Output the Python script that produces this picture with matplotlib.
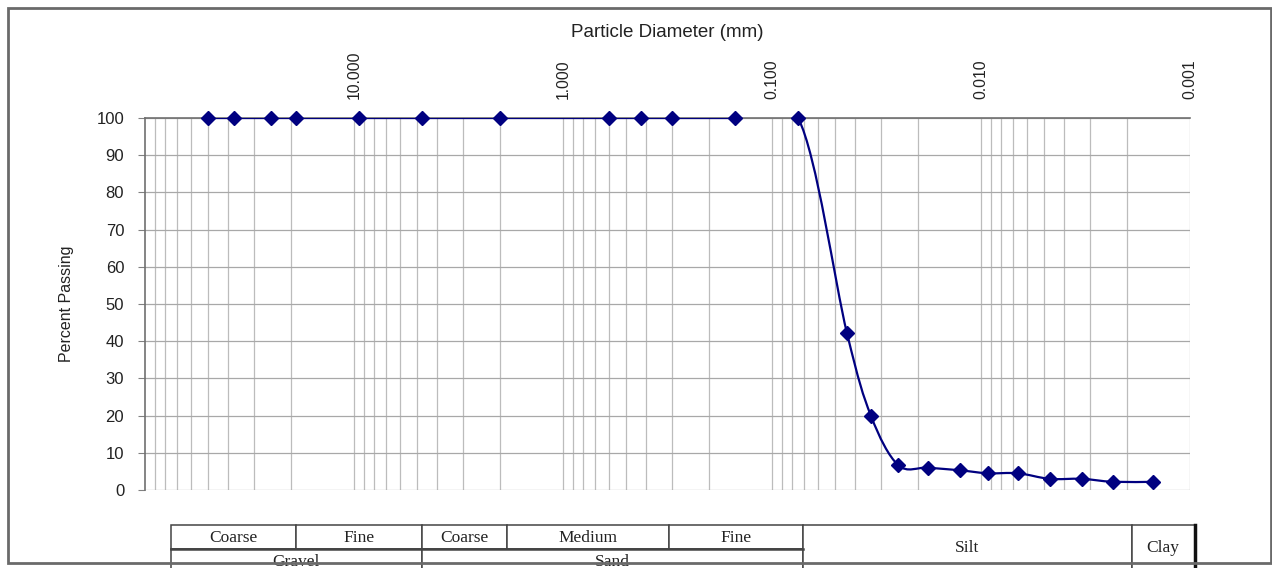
"""Grain size distribution curve with soil classification table."""
import matplotlib.pyplot as plt
import numpy as np
from matplotlib.patches import PathPatch, Rectangle
from matplotlib.path import Path
from matplotlib.ticker import FixedLocator, LogLocator, NullFormatter
from matplotlib.transforms import blended_transform_factory

# Sieve + hydrometer results
diameter_mm = [50.0, 37.5, 25.0, 19.0, 9.5, 4.75, 2.0, 0.6, 0.425, 0.3, 0.15, 0.075,
               0.0438, 0.0336, 0.0249, 0.0180, 0.0126, 0.0093, 0.00665, 0.0047,
               0.0033, 0.00233, 0.0015]
percent_passing = [100, 100, 100, 100, 100, 100, 100, 100, 100, 100, 100, 100,
                   42.2, 19.9, 6.7, 6.0, 5.3, 4.5, 4.5, 3.0, 3.0, 2.2, 2.2]

x_ticks = [10, 1, 0.1, 0.01, 0.001]
y_ticks = list(range(0, 101, 10))

# Classification table (edges in mm, as drawn under the chart)
top_row_labels = ["Coarse", "Fine", "Coarse", "Medium", "Fine"]
top_row_edges = [75, 19, 4.75, 1.85, 0.31, 0.071]
group_labels = ["Gravel", "Sand"]
group_edges = [75, 4.75, 0.071]
fines_labels = ["Silt", "Clay"]
fines_edges = [0.071, 0.0019, 0.00095]

NAVY = "#000080"
TEXT = "#222222"


def smooth_path(x, y):
    """Excel-like smoothed line as a cubic Bezier path (built in log-x space)."""
    lx = np.log10(x)
    y = np.asarray(y, dtype=float)
    n = len(lx)
    verts = [(x[0], y[0])]
    codes = [Path.MOVETO]
    for i in range(n - 1):
        a = max(i - 1, 0)
        b = min(i + 2, n - 1)
        c1 = (lx[i] + (lx[i + 1] - lx[a]) / 6, y[i] + (y[i + 1] - y[a]) / 6)
        c2 = (lx[i + 1] - (lx[b] - lx[i]) / 6, y[i + 1] - (y[b] - y[i]) / 6)
        verts += [(10 ** c1[0], c1[1]), (10 ** c2[0], c2[1]), (x[i + 1], y[i + 1])]
        codes += [Path.CURVE4] * 3
    return Path(verts, codes)


def main():
    plt.rcParams["font.family"] = ["Liberation Sans", "DejaVu Sans"]

    fig = plt.figure(figsize=(12.72, 5.68), dpi=100)
    ax = fig.add_axes([145 / 1272, 1 - 490 / 568, (1190 - 145) / 1272, (490 - 118) / 568])

    ax.set_xscale("log")
    ax.set_xlim(100, 0.001)
    ax.set_ylim(0, 100)

    ax.xaxis.set_major_locator(FixedLocator(x_ticks))
    ax.xaxis.set_minor_locator(LogLocator(base=10, subs=np.arange(2, 10), numticks=20))
    ax.xaxis.set_minor_formatter(NullFormatter())
    ax.set_xticklabels([f"{t:.3f}" for t in x_ticks], rotation=90, color=TEXT,
                       fontsize=11.3)
    ax.xaxis.tick_top()
    ax.xaxis.set_label_position("top")
    ax.tick_params(axis="x", which="both", length=0, pad=13.5)
    ax.set_xlabel("Particle Diameter (mm)", fontsize=13.5, color=TEXT, labelpad=10)

    ax.set_yticks(y_ticks)
    ax.tick_params(axis="y", length=5, color="#808080", pad=10, labelsize=12,
                   labelcolor=TEXT)
    ax.set_ylabel("Percent Passing", fontsize=11.5, color=TEXT, labelpad=16)

    ax.grid(True, which="both", axis="x", color="#bcbcbc", lw=0.9)
    ax.grid(True, which="major", axis="y", color="#a8a8a8", lw=0.9)
    ax.set_axisbelow(True)
    for side in ("right", "bottom"):
        ax.spines[side].set_visible(False)
    ax.spines["left"].set_color("#707070")
    ax.spines["top"].set_color("#707070")
    ax.spines["left"].set_linewidth(1.2)
    ax.spines["top"].set_linewidth(1.2)

    # Smoothed gradation curve plus the measured points
    ax.add_patch(PathPatch(smooth_path(diameter_mm, percent_passing), fill=False,
                           edgecolor=NAVY, lw=1.6, zorder=3))
    ax.plot(diameter_mm, percent_passing, ls="none", marker="D", ms=7, color=NAVY,
            zorder=4, clip_on=False)

    # Outer chart frame
    fig.add_artist(Rectangle((8 / 1272, 1 - 563 / 568), (1271 - 8) / 1272,
                             (563 - 8) / 568, transform=fig.transFigure, fill=False,
                             edgecolor="#6a6a6a", lw=2, zorder=1))

    # Soil classification table under the chart
    trans = blended_transform_factory(ax.transData, fig.transFigure)
    y_top, y_mid, y_bot = 1 - 525 / 568, 1 - 549 / 568, -0.05
    box = dict(transform=trans, clip_on=False, facecolor="white", edgecolor="#444444",
               lw=1.1, zorder=10)
    serif = dict(transform=trans, clip_on=False, ha="center", va="center",
                 family="Liberation Serif", fontsize=12.5, color=TEXT, zorder=11)

    def centre(a, b):
        return 10 ** ((np.log10(a) + np.log10(b)) / 2)

    for lab, a, b in zip(top_row_labels, top_row_edges[:-1], top_row_edges[1:]):
        ax.add_patch(Rectangle((b, y_mid), a - b, y_top - y_mid, **box))
        ax.text(centre(a, b), 1 - 538 / 568, lab, **serif)
    for lab, a, b in zip(group_labels, group_edges[:-1], group_edges[1:]):
        ax.add_patch(Rectangle((b, y_bot), a - b, y_mid - y_bot, **box))
        ax.text(centre(a, b), 1 - 562 / 568, lab, **serif)
    for lab, a, b in zip(fines_labels, fines_edges[:-1], fines_edges[1:]):
        ax.add_patch(Rectangle((b, y_bot), a - b, y_top - y_bot, **box))
        ax.text(centre(a, b), 1 - 548 / 568, lab, **serif)
    ax.plot([fines_edges[-1]] * 2, [y_top, y_bot], transform=trans, clip_on=False,
            color="#111111", lw=2.5, zorder=12)
    ax.plot([group_edges[0], group_edges[-1]], [y_mid, y_mid], transform=trans,
            clip_on=False, color="#444444", lw=1.8, zorder=12)

    ax.set_xlim(100, 0.001)
    ax.set_ylim(0, 100)

    fig.savefig("out.png", dpi=100)


if __name__ == "__main__":
    main()
